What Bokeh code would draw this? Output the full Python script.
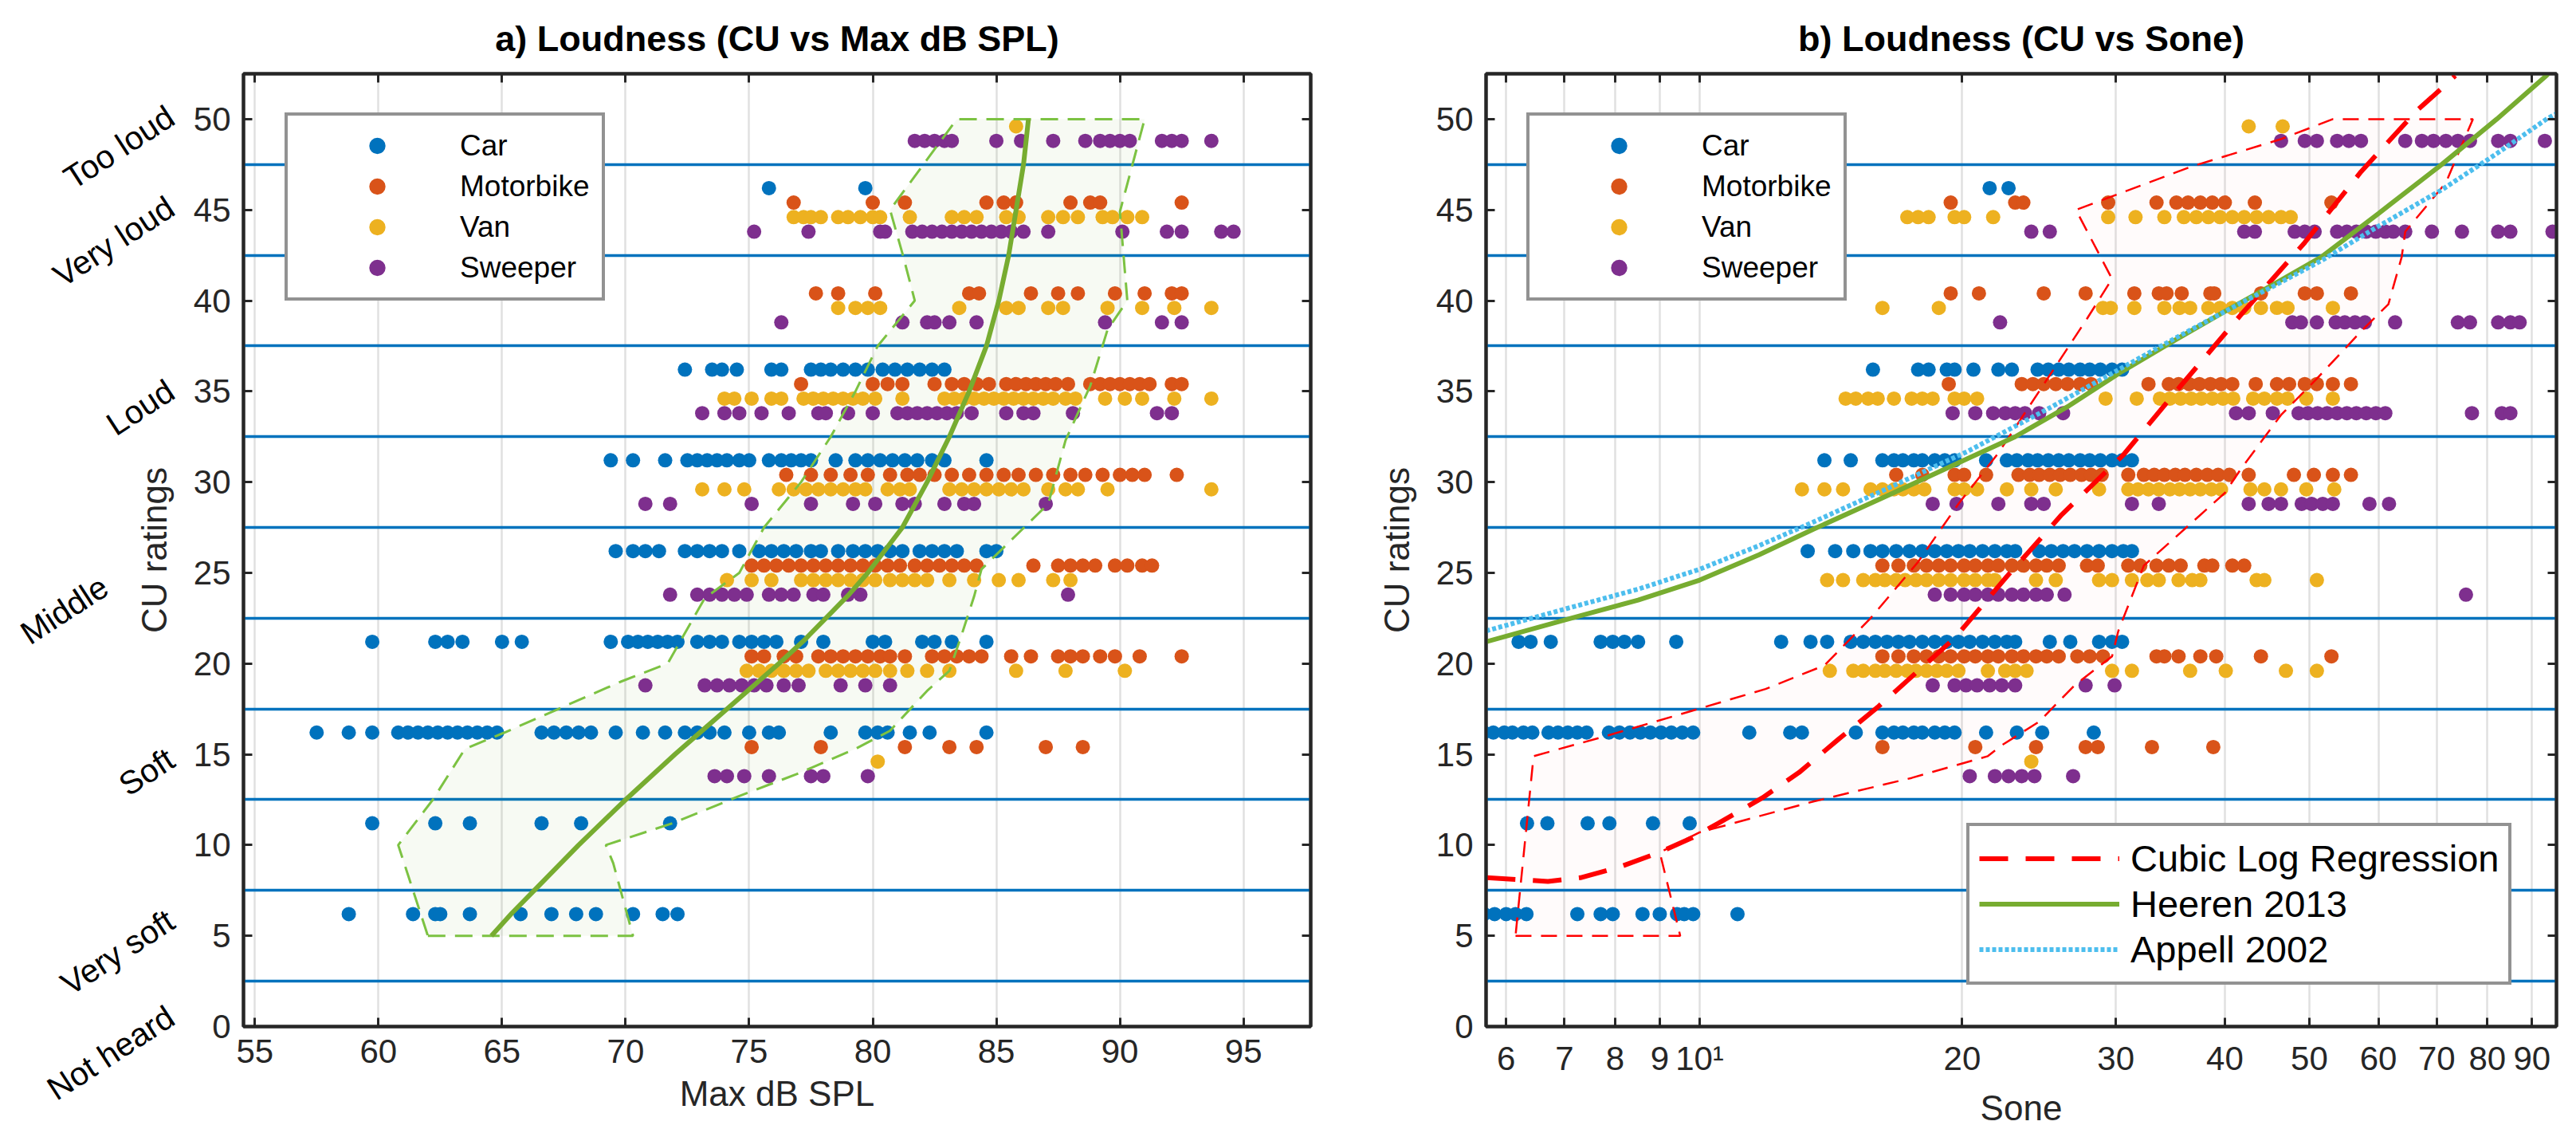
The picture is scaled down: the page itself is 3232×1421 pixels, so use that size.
import math
from bokeh.plotting import figure
from bokeh.models import (LinearAxis, LogAxis, FixedTicker, Legend, LegendItem,
                          Range1d, CustomJSTickFormatter)
from bokeh.layouts import row
from bokeh.embed import file_html
from bokeh.resources import INLINE

FONT = "Liberation Sans"

# ---------------- data: left panel (Max dB SPL) ----------------
car_spl = {
    46.2: [75.8, 79.7],
    36.2: [72.4, 73.5, 73.9, 74.5, 75.9, 76.3, 77.5, 77.9, 78.3, 78.8, 79.3, 79.8, 80.4, 80.9, 81.4, 81.9, 82.4, 82.9],
    31.2: [69.4, 70.3, 71.6, 72.5, 72.9, 73.3, 73.7, 74.1, 74.6, 75.0, 75.8, 76.3, 76.7, 77.1, 77.5, 78.5, 79.3,
           79.8, 80.3, 80.8, 81.3, 81.8, 82.4, 82.9, 84.6],
    26.2: [69.6, 70.3, 70.8, 71.35, 72.4, 72.9, 73.4, 73.9, 74.6, 75.4, 75.9, 76.4, 76.9, 77.5, 77.9, 78.6, 79.2,
           79.7, 80.2, 80.7, 81.2, 81.9, 82.4, 82.9, 83.4, 84.6, 85.0],
    21.2: [59.75, 62.3, 62.8, 63.4, 65.0, 65.8, 69.4, 70.1, 70.5, 70.9, 71.3, 71.7, 72.1, 72.9, 73.4, 73.9, 74.6,
           75.1, 75.6, 76.1, 77.1, 78.0, 80.0, 80.5, 82.0, 82.5, 83.2, 84.6],
    16.2: [57.5, 58.8, 59.75, 60.8, 61.2, 61.6, 62.0, 62.4, 62.8, 63.2, 63.6, 64.0, 64.4, 64.8, 66.6, 67.1, 67.6,
           68.1, 68.6, 69.6, 70.7, 71.6, 72.4, 72.9, 73.4, 74.0, 75.0, 75.8, 76.2, 78.3, 79.7, 80.2, 80.6, 81.5,
           82.3, 84.6],
    11.2: [59.75, 62.3, 63.7, 66.6, 68.2, 71.8],
    6.2: [58.8, 61.4, 62.3, 62.5, 63.7, 65.75, 67.0, 68.0, 68.8, 70.3, 71.5, 72.1],
}
moto_spl = {
    45.4: [76.8, 80.0, 81.3, 84.6, 85.3, 85.8, 88.0, 88.8, 89.2, 92.5],
    40.4: [77.7, 78.6, 80.1, 83.9, 84.3, 86.4, 87.5, 88.3, 89.8, 91.0, 92.1, 92.5],
    35.4: [77.1, 80.0, 80.6, 81.2, 82.5, 83.2, 83.7, 84.2, 84.7, 85.4, 85.8, 86.2, 86.6, 87.0, 87.4, 87.9, 88.8,
           89.2, 89.6, 90.0, 90.4, 90.8, 91.2, 92.1, 92.5],
    30.4: [76.5, 77.5, 78.3, 79.1, 79.8, 80.7, 81.4, 81.9, 82.5, 83.2, 83.9, 84.6, 85.3, 85.9, 86.6, 87.3, 88.0,
           88.6, 89.3, 90.0, 90.5, 91.0, 92.3],
    25.4: [75.1, 75.6, 76.1, 76.6, 77.1, 77.6, 78.1, 78.6, 79.1, 79.6, 80.1, 80.6, 81.1, 81.7, 82.2, 82.7, 83.2,
           83.7, 84.2, 86.5, 87.5, 88.0, 88.5, 89.0, 89.8, 90.3, 90.9, 91.3],
    20.4: [75.1, 75.6, 76.4, 76.9, 77.8, 78.3, 78.8, 79.3, 79.8, 80.3, 80.7, 81.3, 82.4, 82.9, 83.4, 83.9, 84.4,
           85.6, 86.4, 87.5, 88.0, 88.5, 89.2, 89.8, 90.8, 92.5],
    15.4: [75.1, 77.9, 81.3, 83.1, 84.2, 87.0, 88.5],
}
van_spl = {
    49.6: [85.8],
    44.6: [76.8, 77.2, 77.5, 77.9, 78.6, 79.0, 79.5, 80.0, 80.3, 81.5, 83.2, 83.7, 84.2, 85.4, 85.9, 87.1, 87.7,
           88.3, 89.3, 89.7, 90.3, 90.9],
    39.6: [78.6, 79.3, 79.8, 80.3, 83.5, 85.4, 85.9, 87.1, 87.7, 89.5, 90.9, 92.2, 93.7],
    34.6: [74.0, 74.4, 75.1, 75.9, 76.3, 77.2, 77.6, 78.0, 78.4, 78.8, 79.2, 79.6, 80.1, 81.2, 82.9, 83.3, 83.7,
           84.1, 84.5, 84.9, 85.3, 85.7, 86.1, 86.5, 86.9, 87.3, 87.8, 88.2, 89.4, 90.2, 90.9, 92.2, 93.7],
    29.6: [73.1, 74.0, 74.8, 76.2, 76.8, 77.3, 77.8, 78.3, 78.8, 79.3, 79.7, 80.6, 81.1, 81.5, 83.1, 83.6, 84.1,
           84.6, 85.1, 85.6, 86.1, 87.1, 87.8, 88.3, 89.5, 93.7],
    24.6: [74.1, 75.1, 75.9, 77.1, 77.6, 78.1, 78.6, 79.1, 79.6, 80.1, 80.7, 81.2, 81.7, 82.2, 83.1, 84.1, 85.1,
           85.9, 87.3, 88.0],
    19.6: [74.9, 75.4, 75.9, 76.4, 76.9, 77.4, 78.1, 78.6, 79.1, 79.6, 80.1, 80.7, 81.4, 82.2, 83.1, 85.8, 87.8, 90.2],
    14.6: [80.2],
}
sweep_spl = {
    48.8: [81.7, 82.1, 82.5, 82.9, 83.2, 85.0, 86.0, 87.3, 88.6, 89.2, 89.6, 90.0, 90.4, 91.7, 92.1, 92.5, 93.7],
    43.8: [75.2, 77.4, 80.3, 80.5, 81.6, 82.0, 82.4, 82.8, 83.2, 83.6, 84.0, 84.4, 84.8, 85.2, 85.6, 86.1, 87.1,
           90.1, 91.9, 92.5, 94.1, 94.6],
    38.8: [76.3, 81.2, 82.2, 82.5, 83.1, 84.2, 89.4, 91.7, 92.5],
    33.8: [73.1, 74.0, 74.6, 75.5, 76.6, 77.8, 78.1, 79.0, 80.0, 81.0, 81.4, 81.8, 82.2, 82.6, 83.0, 83.4, 84.0,
           85.4, 86.1, 86.5, 88.1, 91.5, 92.1],
    28.8: [70.8, 71.8, 75.1, 77.5, 79.2, 80.1, 81.2, 81.7, 82.9, 83.7, 84.1, 87.0],
    23.8: [71.8, 72.9, 73.4, 73.9, 74.4, 74.9, 75.8, 76.3, 76.8, 77.6, 78.0, 79.0, 79.5, 87.9],
    18.8: [70.8, 73.2, 73.7, 74.2, 74.7, 75.2, 75.7, 76.4, 77.0, 78.7, 79.7, 80.7],
    13.8: [73.6, 74.1, 74.8, 75.8, 77.5, 78.0, 79.8],
}
fit_spl_x = [64.57, 65.4, 66.3, 67.2, 68.1, 69.05, 70.0, 71.0, 72.0, 73.05, 74.1, 75.15, 76.2, 77.2, 78.1,
             79.0, 79.8, 80.5, 81.2, 81.7, 82.2, 82.65, 83.1, 83.5, 83.9, 84.25, 84.6, 84.85, 85.1, 85.3, 85.5,
             85.65, 85.8, 85.95, 86.1, 86.2, 86.3]
fit_spl_y = [5, 6.25, 7.5, 8.75, 10, 11.25, 12.5, 13.75, 15, 16.25, 17.5, 18.75, 20, 21.25, 22.5, 23.75, 25,
             26.25, 27.5, 28.75, 30, 31.25, 32.5, 33.75, 35, 36.25, 37.5, 38.75, 40, 41.25, 42.5, 43.75, 45,
             46.25, 47.5, 48.75, 50]
band_spl_x = [62.0, 70.3, 69.5, 69.2, 71.9, 74.6, 76.9, 79.3, 80.7, 82.2, 83.1, 83.6, 84.1, 84.4, 85.3, 87.1,
              87.8, 88.8, 89.5, 90.3, 90.0, 91.0, 83.4, 80.7, 81.2, 81.7, 80.2, 79.3, 78.3, 77.1, 75.6, 74.6,
              73.2, 72.2, 71.7, 69.8, 65.1, 63.5, 62.2, 60.8]
band_spl_y = [5.0, 5.0, 9.0, 10.0, 11.2, 12.7, 13.9, 15.3, 16.3, 18.5, 19.6, 21.6, 23.7, 25.2, 26.4, 28.8,
              32.3, 35.3, 38.4, 40.0, 44.9, 50.0, 50.0, 45.0, 42.6, 40.0, 37.5, 35.0, 32.5, 30.0, 27.5, 25.0,
              23.6, 21.2, 20.0, 19.0, 16.2, 15.3, 12.5, 10.0]

# ---------------- data: right panel (Sone) ----------------
car_sone = {
    46.2: [21.5, 22.6],
    36.2: [15.8, 17.8, 18.3, 19.2, 19.6, 20.6, 22.0, 22.8, 24.4, 25.1, 25.8, 26.5, 27.3, 28.0, 28.8, 29.7, 30.5],
    31.2: [13.9, 14.9, 16.2, 16.7, 17.1, 17.6, 18.0, 18.6, 19.1, 19.6, 21.3, 22.5, 23.1, 23.8, 24.4, 25.1, 25.8,
           26.5, 27.3, 28.0, 28.8, 29.7, 30.5, 31.3],
    26.2: [13.3, 14.3, 15.0, 15.7, 16.2, 16.8, 17.4, 18.0, 18.6, 19.2, 19.8, 20.4, 21.1, 21.8, 22.5, 23.0, 24.5,
           25.3, 26.1, 26.9, 27.8, 28.7, 29.7, 30.6, 31.3],
    21.2: [6.2, 6.4, 6.75, 7.7, 7.95, 8.2, 8.5, 9.4, 12.4, 13.4, 14.0, 14.9, 15.4, 15.9, 16.4, 16.9, 17.4, 18.0,
           18.6, 19.2, 19.8, 20.4, 21.1, 21.8, 22.5, 23.0, 25.2, 26.6, 28.7, 29.7, 30.5],
    16.2: [5.66, 5.8, 5.97, 6.1, 6.28, 6.43, 6.71, 6.88, 7.06, 7.24, 7.42, 7.87, 8.09, 8.32, 8.55, 8.78, 9.03,
           9.28, 9.55, 9.83, 11.4, 12.7, 13.1, 15.1, 16.2, 16.7, 17.1, 17.6, 18.0, 18.6, 19.1, 19.6, 21.3, 23.1,
           24.7, 28.3],
    11.2: [6.34, 6.69, 7.44, 7.88, 8.84, 9.74],
    6.2: [5.66, 5.82, 6.0, 6.15, 6.33, 7.24, 7.7, 7.95, 8.6, 9.0, 9.42, 9.6, 9.83, 11.05],
}
moto_sone = {
    45.4: [19.4, 23.0, 23.5, 29.4, 33.4, 35.2, 36.3, 37.5, 38.7, 40.0, 43.3, 53.0],
    40.4: [19.4, 20.9, 24.8, 27.7, 31.5, 33.6, 34.3, 35.7, 38.5, 38.9, 44.0, 49.4, 51.0, 55.8],
    35.4: [19.3, 23.4, 24.1, 24.8, 25.6, 26.4, 27.3, 28.1, 32.7, 34.5, 35.4, 36.4, 37.4, 38.5, 39.6, 40.8, 43.4,
           45.9, 47.4, 49.4, 51.0, 53.2, 55.8],
    30.4: [16.8, 18.0, 19.6, 20.1, 21.3, 23.2, 23.9, 24.5, 25.2, 25.9, 26.6, 27.4, 28.1, 28.9, 31.0, 32.3, 33.2,
           34.1, 35.1, 36.0, 37.1, 38.2, 39.3, 40.5, 42.6, 48.0, 50.6, 53.2, 55.8],
    25.4: [16.2, 16.9, 17.6, 18.2, 18.8, 19.4, 20.1, 20.7, 21.4, 22.0, 22.8, 23.5, 24.3, 25.0, 25.8, 27.8, 28.6,
           31.0, 32.0, 33.4, 34.5, 35.6, 37.9, 38.7, 40.8, 42.1],
    20.4: [16.2, 16.9, 17.6, 18.2, 18.8, 19.4, 20.1, 20.7, 21.4, 22.0, 22.8, 23.5, 24.3, 25.0, 25.8, 27.1, 28.0,
           29.0, 33.4, 34.1, 35.4, 37.5, 39.1, 44.0, 53.0],
    15.4: [16.2, 20.7, 24.3, 27.7, 28.6, 33.0, 38.8],
}
van_sone = {
    49.6: [42.6, 46.6],
    44.6: [17.3, 17.8, 18.3, 19.6, 20.1, 21.7, 29.4, 31.6, 34.1, 35.9, 37.1, 38.3, 39.5, 40.8, 42.1, 43.5, 44.9,
           46.4, 47.6],
    39.6: [16.2, 18.8, 29.0, 29.6, 31.5, 34.1, 35.5, 36.5, 38.3, 39.5, 40.8, 42.1, 44.0, 45.9, 47.2, 53.2],
    34.6: [14.7, 15.1, 15.6, 16.0, 16.7, 17.5, 18.0, 18.5, 19.6, 20.1, 20.8, 29.2, 31.7, 33.7, 34.6, 35.6, 36.6,
           37.6, 38.7, 39.8, 40.9, 43.1, 44.4, 45.9, 47.2, 49.6, 53.2],
    29.6: [13.1, 13.9, 14.6, 15.7, 16.2, 16.7, 17.1, 17.6, 18.1, 19.6, 20.1, 20.8, 22.5, 24.0, 25.6, 28.7, 31.0,
           31.8, 32.7, 33.6, 34.6, 35.5, 36.5, 37.5, 38.6, 39.6, 42.8, 44.4, 46.4, 49.6, 53.4],
    24.6: [14.0, 14.6, 15.4, 15.9, 16.3, 16.8, 17.2, 17.7, 18.2, 18.8, 19.4, 20.1, 20.7, 21.4, 21.8, 24.3, 25.6,
           28.7, 29.7, 31.3, 32.6, 33.6, 35.4, 36.7, 37.5, 43.5, 44.4, 51.0],
    19.6: [14.1, 15.0, 15.4, 15.9, 16.3, 16.8, 17.3, 17.7, 18.2, 18.7, 19.2, 19.8, 21.4, 22.4, 23.0, 23.7, 29.7,
           31.3, 36.5, 40.1, 47.0, 51.0],
    14.6: [24.0],
}
sweep_sone = {
    48.8: [46.4, 49.4, 51.0, 53.8, 55.5, 57.3, 64.4, 67.3, 69.4, 71.7, 74.0, 76.4, 82.3, 85.0, 93.1],
    43.8: [24.0, 25.2, 42.1, 43.3, 48.1, 49.4, 50.7, 53.8, 55.2, 56.6, 58.1, 59.6, 61.1, 62.4, 64.4, 69.1, 74.8,
           82.3, 85.0, 95.0],
    38.8: [22.1, 47.8, 48.9, 51.0, 53.6, 54.9, 56.4, 57.9, 62.7, 74.0, 76.4, 82.3, 85.0, 87.1],
    33.8: [19.5, 20.7, 21.7, 22.4, 23.0, 23.6, 24.5, 26.1, 41.2, 42.6, 45.4, 48.6, 49.8, 51.1, 52.4, 53.8, 55.2,
           56.6, 58.1, 59.6, 61.1, 76.8, 83.1, 85.0],
    28.8: [18.5, 19.7, 22.0, 24.0, 24.8, 31.3, 33.6, 42.6, 44.9, 46.4, 49.0, 50.3, 51.8, 53.2, 58.6, 61.7],
    23.8: [18.6, 19.4, 20.1, 20.7, 21.4, 22.0, 22.8, 23.5, 24.3, 25.0, 26.2, 75.6],
    18.8: [18.5, 19.6, 20.2, 20.8, 21.5, 22.2, 23.0, 27.7, 29.9],
    13.8: [20.4, 21.8, 22.6, 23.4, 24.2, 26.8],
}
cubic_x = [5.7, 6.2, 6.7, 7.3, 8.1, 9.0, 9.8, 10.5, 11.8, 13.0, 14.4, 16.0, 19.6, 22.5, 26.0, 30.6, 35.6, 41.7,
           49.4, 57.3, 66.5, 71.7, 73.5]
cubic_y = [8.2, 8.1, 8.0, 8.2, 8.8, 9.6, 10.4, 11.2, 12.6, 14.0, 15.8, 17.6, 21.4, 24.8, 28.2, 31.5, 35.3, 39.2,
           43.2, 47.1, 50.5, 51.9, 52.4]
heeren_x = [5.69, 7.0, 8.5, 10.0, 11.7, 13.5, 16.5, 20.3, 23.0, 26.5, 30.5, 35.0, 40.0, 45.5, 51.6, 60.0, 70.9,
            82.0, 93.5, 96.0]
heeren_y = [21.2, 22.4, 23.5, 24.6, 26.0, 27.4, 29.3, 31.3, 32.5, 34.2, 36.1, 37.8, 39.4, 40.9, 42.4, 44.8,
            47.5, 50.0, 52.4, 53.0]
appell_x = [5.69, 7.0, 8.5, 10.0, 11.7, 13.5, 16.5, 20.3, 25.0, 30.5, 35.0, 40.0, 45.5, 51.6, 60.0, 70.9, 82.0,
            93.5, 96.0]
appell_y = [21.8, 23.0, 24.1, 25.2, 26.5, 27.8, 29.7, 31.7, 34.0, 36.3, 37.9, 39.4, 40.8, 42.2, 44.1, 46.1,
            48.1, 50.0, 50.3]
band_sone_x = [6.15, 9.5, 9.0, 10.0, 13.5, 17.5, 21.4, 22.2, 24.5, 26.9, 29.7, 30.2, 32.3, 40.0, 41.7, 46.4,
               51.0, 57.3, 61.6, 63.8, 64.4, 71.7, 77.0, 53.2, 46.4, 36.7, 27.0, 29.7, 27.8, 24.5, 22.0, 19.8,
               17.8, 15.7, 13.9, 11.9, 9.8, 7.8, 6.45]
band_sone_y = [5.0, 5.0, 9.6, 10.7, 12.4, 13.7, 14.9, 15.5, 16.8, 18.8, 20.4, 21.8, 25.4, 29.4, 30.7, 33.7,
               35.7, 38.3, 39.8, 42.4, 43.8, 46.5, 50.0, 50.0, 48.9, 47.4, 45.0, 41.2, 39.0, 35.0, 31.6, 28.8,
               25.6, 22.5, 19.9, 18.6, 17.4, 16.0, 14.9]

# ---------------- axes / labels ----------------
cu_ticks = [0, 5, 10, 15, 20, 25, 30, 35, 40, 45, 50]
spl_ticks = [55, 60, 65, 70, 75, 80, 85, 90, 95]
sone_ticks = [6, 7, 8, 9, 10, 20, 30, 40, 50, 60, 70, 80, 90]
sone_tick_labels = ["6", "7", "8", "9", "10¹", "20", "30", "40", "50", "60", "70", "80", "90"]
band_lines = [2.5, 7.5, 12.5, 17.5, 22.5, 27.5, 32.5, 37.5, 42.5, 47.5]
# category names: CU value where each rotated name ends (two columns of names)
cat_labels_a = ["Too loud", "Very loud", "Loud", "Soft", "Very soft", "Not heard"]
cat_y_a = [50.3, 45.3, 35.2, 14.9, 6.0, 0.7]
cat_labels_b = ["Middle"]
cat_y_b = [24.4]

series_names = ["Car", "Motorbike", "Van", "Sweeper"]
series_colors = ["#0072BD", "#D95319", "#EDB120", "#7E2F8E"]

AX = "#262626"


def flatten(rows):
    xs, ys = [], []
    for yv, xl in rows.items():
        xs.extend(xl)
        ys.extend([yv] * len(xl))
    return xs, ys


def style_axis(ax, ticks, labels=True):
    ax.ticker = FixedTicker(ticks=ticks)
    ax.axis_line_color = AX
    ax.axis_line_width = 4
    ax.major_tick_line_color = AX
    ax.major_tick_line_width = 3
    ax.major_tick_in = 11
    ax.major_tick_out = 0
    ax.minor_tick_line_color = None
    ax.major_label_text_font = FONT
    ax.major_label_text_font_size = "42px"
    ax.major_label_text_color = AX
    ax.axis_label_text_font = FONT
    ax.axis_label_text_font_size = "44px"
    ax.axis_label_text_font_style = "normal"
    ax.axis_label_text_color = AX
    if not labels:
        ax.formatter = CustomJSTickFormatter(code="return ''")
        ax.major_label_text_font_size = "0px"
        ax.major_label_standoff = 0


def category_axis(p, names, ticks, standoff):
    ax = LinearAxis(ticker=FixedTicker(ticks=ticks),
                    major_label_overrides={t: n for t, n in zip(ticks, names)})
    ax.axis_line_color = None
    ax.major_tick_line_color = None
    ax.minor_tick_line_color = None
    ax.major_tick_in = 0
    ax.major_tick_out = 0
    ax.major_label_orientation = math.radians(33)
    ax.major_label_standoff = standoff
    ax.major_label_text_font = FONT
    ax.major_label_text_font_size = "41px"
    ax.major_label_text_color = "#000000"
    p.add_layout(ax, "left")


def make_fig(width, xr, x_type, mbl, mbr, title, xticks, xlabel):
    p = figure(width=width, height=1421, x_range=Range1d(*xr), y_range=Range1d(0, 52.5), x_axis_type=x_type,
               output_backend="svg", toolbar_location=None, min_border_left=mbl, min_border_right=mbr,
               min_border_top=92, min_border_bottom=134, title=title)
    p.title.text_font = FONT
    p.title.text_font_size = "45px"
    p.title.text_font_style = "bold"
    p.title.align = "center"
    p.title.text_color = "#000000"
    p.title.standoff = 38
    p.outline_line_color = AX
    p.outline_line_width = 4
    p.outline_line_alpha = 1
    p.background_fill_color = "white"
    p.border_fill_color = "white"
    xax = p.xaxis[0]
    yax = p.yaxis[0]
    style_axis(xax, xticks)
    style_axis(yax, cu_ticks)
    xax.major_label_standoff = 16
    xax.axis_label_standoff = 11
    yax.major_label_standoff = 16
    yax.axis_label_standoff = 22
    xax.axis_label = xlabel
    yax.axis_label = "CU ratings"
    p.ygrid.visible = False
    p.xgrid.ticker = FixedTicker(ticks=xticks)
    p.xgrid.grid_line_color = "#000000"
    p.xgrid.grid_line_alpha = 0.12
    p.xgrid.grid_line_width = 2.5
    top = LogAxis() if x_type == "log" else LinearAxis()
    style_axis(top, xticks, labels=False)
    p.add_layout(top, "above")
    right = LinearAxis()
    style_axis(right, cu_ticks, labels=False)
    p.add_layout(right, "right")
    p.hspan(y=band_lines, line_color="#0072BD", line_width=3.5)
    return p, xax


def scatter_legend(p, renderers, loc):
    leg = Legend(items=[LegendItem(label=n, renderers=[r]) for n, r in zip(series_names, renderers)],
                 location=loc)
    leg.padding = 12
    leg.margin = 0
    leg.spacing = 0
    leg.glyph_width = 200
    leg.glyph_height = 51
    leg.label_height = 51
    leg.label_width = 166
    leg.label_standoff = 4
    leg.label_text_font = FONT
    leg.label_text_font_size = "37px"
    leg.label_text_color = "#000000"
    leg.border_line_color = AX
    leg.border_line_width = 4
    leg.background_fill_color = "white"
    leg.background_fill_alpha = 1
    p.add_layout(leg)


# ---------------- left figure ----------------
p1, x1 = make_fig(1700, (54.54, 97.72), "linear", 305, 56, "a) Loudness (CU vs Max dB SPL)",
                  spl_ticks, "Max dB SPL")
p1.patch(band_spl_x, band_spl_y, fill_color="#77AC30", fill_alpha=0.06, line_color=None)
r1 = []
for rows, c in zip([car_spl, moto_spl, van_spl, sweep_spl], series_colors):
    xs, ys = flatten(rows)
    r1.append(p1.scatter(xs, ys, size=18, fill_color=c, line_color=None, marker="circle"))
p1.patch(band_spl_x, band_spl_y, fill_alpha=0, line_color="#7CC242", line_width=3, line_dash="22 12")
p1.line(fit_spl_x, fit_spl_y, line_color="#77AC30", line_width=6)
scatter_legend(p1, r1, (52, 910))
category_axis(p1, cat_labels_a, cat_y_a, -49)
category_axis(p1, cat_labels_b, cat_y_b, -96)

# ---------------- right figure ----------------
p2, x2 = make_fig(1532, (5.69, 96.0), "log", 164, 25, "b) Loudness (CU vs Sone)", sone_ticks, "Sone")
x2.major_label_overrides = {t: l for t, l in zip(sone_ticks, sone_tick_labels)}
p2.patch(band_sone_x, band_sone_y, fill_color="#FF0000", fill_alpha=0.015, line_color=None)
r2 = []
for rows, c in zip([car_sone, moto_sone, van_sone, sweep_sone], series_colors):
    xs, ys = flatten(rows)
    r2.append(p2.scatter(xs, ys, size=18, fill_color=c, line_color=None, marker="circle"))
p2.patch(band_sone_x, band_sone_y, fill_alpha=0, line_color="#FF0000", line_width=2.5, line_dash="20 12")
rc = p2.line(cubic_x, cubic_y, line_color="#FF0000", line_width=6, line_dash="36 22")
rh = p2.line(heeren_x, heeren_y, line_color="#77AC30", line_width=6)
ra = p2.line(appell_x, appell_y, line_color="#4DBEEE", line_width=6, line_dash="5 3")
scatter_legend(p2, r2, (51, 910))
leg2 = Legend(items=[LegendItem(label="Cubic Log Regression", renderers=[rc]),
                     LegendItem(label="Heeren 2013", renderers=[rh]),
                     LegendItem(label="Appell 2002", renderers=[ra])], location=(603, 52))
leg2.padding = 12
leg2.margin = 0
leg2.spacing = 0
leg2.glyph_width = 176
leg2.glyph_height = 57
leg2.label_height = 57
leg2.label_standoff = 14
leg2.label_text_font = FONT
leg2.label_text_font_size = "47px"
leg2.label_text_color = "#000000"
leg2.border_line_color = AX
leg2.border_line_width = 4
leg2.background_fill_color = "white"
leg2.background_fill_alpha = 1
p2.add_layout(leg2)

layout = row(p1, p2)
open("out.html", "w").write(file_html(layout, INLINE))
